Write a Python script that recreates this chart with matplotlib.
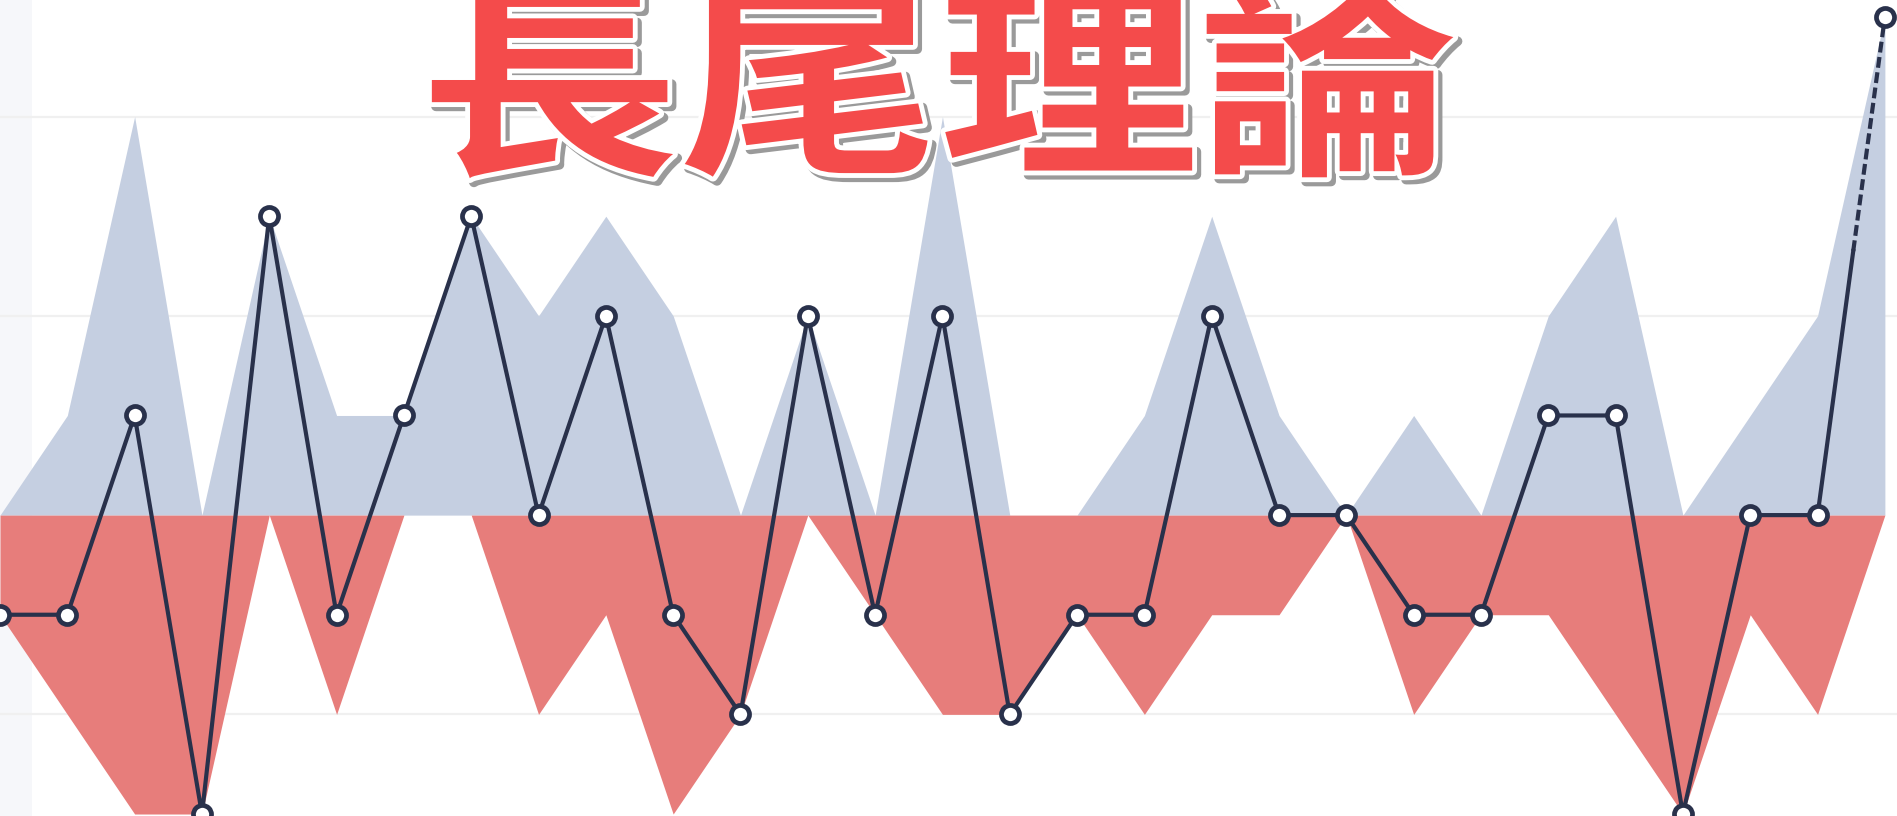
import numpy as np
import matplotlib
matplotlib.use("Agg")
import matplotlib.pyplot as plt
import matplotlib.patheffects as pe
from matplotlib.transforms import Affine2D

# data (one point per category)
positions = np.arange(29)
gains = [0, 1, 4, 0, 3, 1, 1, 3, 2, 3, 2, 0, 2, 0, 4, 0, 0, 1, 3, 1, 0, 1, 0, 2, 3, 0, 1, 2, 5]
losses = [-1, -2, -3, -3, 0, -2, 0, 0, -2, -1, -3, -2, 0, -1, -2, -2, -1, -2, -1, -1, 0, -2, -1, -1, -2, -3, -1, -2, 0]
net = [-1, -1, 1, -3, 3, -1, 1, 3, 0, 2, -1, -2, 2, -1, 2, -2, -1, -1, 2, 0, 0, -1, -1, 1, 1, -3, 0, 0, 5]
title = "長尾理論"

# styling
blue_fill = "#c5cfe1"
red_fill = "#e77d7b"
navy = "#29314b"
solid_part = 0.53  # share of the last segment drawn solid before the dashes
title_x, title_y = 0.495, 0.806
title_stretch = 1.23  # the title glyphs are wider than they are tall


class Stretched(pe.AbstractPathEffect):
    """Run a list of path effects on a horizontally stretched copy of the path."""

    def __init__(self, effects, sx, cx):
        super().__init__()
        self.effects = effects
        self.sx = sx
        self.cx = cx

    def draw_path(self, renderer, gc, tpath, affine, rgbFace=None):
        stretch = Affine2D().translate(-self.cx, 0).scale(self.sx, 1).translate(self.cx, 0)
        for eff in self.effects:
            eff.draw_path(renderer, gc, tpath, affine + stretch, rgbFace)


fig = plt.figure(figsize=(18.97, 8.16), dpi=100)
ax = fig.add_axes([0, 0, 1, 1])

ax.axvspan(-1, 0.48, color="#f6f7fa", zorder=0, lw=0)
for g in [-2, 2, 4]:
    ax.axhline(g, color="#f0f0f0", lw=1.6, zorder=1)

ax.fill_between(positions, 0, gains, color=blue_fill, lw=0, zorder=2)
ax.fill_between(positions, 0, losses, color=red_fill, lw=0, zorder=2)

# solid part of the line
ax.plot(positions[:-1], net[:-1], color=navy, lw=3, zorder=4)
# last segment: solid start, then dashed
x0, x1 = positions[-2], positions[-1]
y0, y1 = net[-2], net[-1]
xm = x0 + (x1 - x0) * solid_part
ym = y0 + (y1 - y0) * solid_part
ax.plot([x0, xm], [y0, ym], color=navy, lw=3, zorder=4)
ax.plot([xm, x1], [ym, y1], color=navy, lw=3, zorder=4, linestyle=(0, (2.6, 1.1)))

ax.plot(positions, net, linestyle="none", marker="o", markersize=13,
        markerfacecolor="white", markeredgecolor=navy, markeredgewidth=3.4, zorder=5)

ax.set_xlim(0, 28.18)
ax.set_ylim(-3.02, 5.17)
ax.axis("off")

cx = title_x * fig.get_figwidth() * fig.dpi
title_effects = [pe.Stroke(linewidth=7, foreground="#9a9a9a", offset=(3, -3)),
                 pe.Stroke(linewidth=7, foreground="white"),
                 pe.Normal()]
fig.text(title_x, title_y, title, fontsize=152, fontweight="bold", color="#f44b4b",
         family=["Noto Sans CJK TC", "DejaVu Sans"], ha="center", va="baseline",
         path_effects=[Stretched(title_effects, title_stretch, cx)], zorder=10)

fig.savefig("out.png", dpi=100)
